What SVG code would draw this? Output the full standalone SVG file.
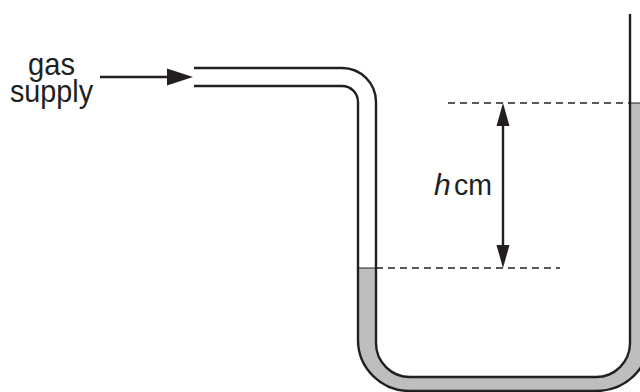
<svg xmlns="http://www.w3.org/2000/svg" width="640" height="392" viewBox="0 0 640 392">
<style>
.wall{fill:none;stroke:#231f20;stroke-width:2.4;stroke-linejoin:round}
.dash{fill:none;stroke:#231f20;stroke-width:1.3;stroke-dasharray:7 5}
.ln{fill:none;stroke:#231f20;stroke-width:2.4}
.head{fill:#231f20}
.liq{fill:#bcbec0}
.lbl{font-family:"Liberation Sans",Arial,sans-serif;fill:#231f20}
</style>
<rect width="640" height="392" fill="#ffffff"/>
<g id="liquid">
<path class="liq" d="M358,268 V340 A52,51 0 0 0 410,391 H596 A52,48 0 0 0 648,343 V103 H630 V343 A34,34 0 0 1 596,377 H410 A34,34 0 0 1 376,343 V268 Z"/>
<line x1="358" y1="268" x2="376" y2="268" stroke="#231f20" stroke-width="1"/>
<line x1="630" y1="103" x2="640" y2="103" stroke="#231f20" stroke-width="1"/>
</g>
<g id="tube">
<path class="wall" d="M194,68 H342 A34,34 0 0 1 376,102 V343 A34,34 0 0 0 410,377 H596 A34,34 0 0 0 630,343 V14"/>
<path class="wall" d="M194,86 H342 A16,16 0 0 1 358,102 V340 A52,51 0 0 0 410,391 H596 A52,48 0 0 0 648,343 V100"/>
</g>
<g id="connectors">
<line class="ln" x1="100" y1="77" x2="170" y2="77"/>
<polygon class="head" points="167,68.5 193,77 167,85.5"/>
<line class="dash" x1="448" y1="103" x2="630" y2="103"/>
<line class="dash" x1="376" y1="268" x2="560" y2="268"/>
<line class="ln" x1="503" y1="118" x2="503" y2="253"/>
<polygon class="head" points="503,103 496.5,126 509.5,126"/>
<polygon class="head" points="503,268 496.5,245 509.5,245"/>
</g>
<g id="label-gas">
<text class="lbl" x="28" y="75" font-size="32" textLength="47" lengthAdjust="spacingAndGlyphs">gas</text>
<text class="lbl" x="10" y="102" font-size="32" textLength="83" lengthAdjust="spacingAndGlyphs">supply</text>
</g>
<g id="label-h">
<text class="lbl" y="195" font-size="30"><tspan x="434" font-style="italic">h</tspan><tspan x="454" textLength="38" lengthAdjust="spacingAndGlyphs">cm</tspan></text>
</g>
</svg>
